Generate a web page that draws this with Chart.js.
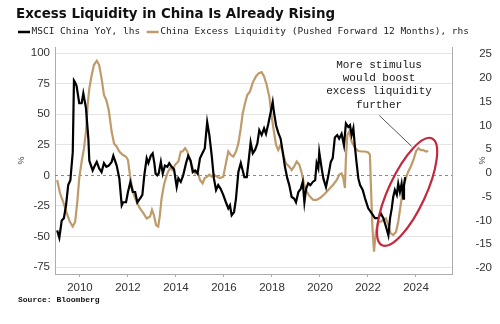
<!DOCTYPE html>
<html>
<head>
<meta charset="utf-8">
<script src="https://cdn.jsdelivr.net/npm/chart.js@4.4.1/dist/chart.umd.min.js"></script>
<style>
    html, body { margin: 0; padding: 0; background: #fff; }
    #chart { display: block; }
</style>
</head>
<body>
<canvas id="chart" width="500" height="324"></canvas>
<script>
    // MSCI China YoY (%), left axis
    const msciYears = [
        2009.05, 2009.14, 2009.24, 2009.33, 2009.42, 2009.51, 2009.60, 2009.70, 2009.75, 2009.80,
        2009.86, 2009.97, 2010.07, 2010.14, 2010.25, 2010.35, 2010.39, 2010.53, 2010.62, 2010.70,
        2010.80, 2010.90, 2011.00, 2011.10, 2011.20, 2011.32, 2011.39, 2011.53, 2011.64, 2011.74,
        2011.80, 2011.92, 2012.00, 2012.10, 2012.20, 2012.30, 2012.39, 2012.50, 2012.60, 2012.68,
        2012.78, 2012.85, 2012.95, 2013.03, 2013.10, 2013.15, 2013.22, 2013.28, 2013.37, 2013.45,
        2013.54, 2013.64, 2013.72, 2013.82, 2013.92, 2014.03, 2014.10, 2014.20, 2014.30, 2014.42,
        2014.51, 2014.61, 2014.70, 2014.80, 2014.90, 2015.00, 2015.10, 2015.20, 2015.30, 2015.39,
        2015.49, 2015.58, 2015.67, 2015.76, 2015.86, 2015.97, 2016.08, 2016.18, 2016.25, 2016.32,
        2016.42, 2016.50, 2016.60, 2016.70, 2016.78, 2016.85, 2016.95, 2017.04, 2017.11, 2017.20,
        2017.30, 2017.39, 2017.47, 2017.57, 2017.67, 2017.75, 2017.85, 2017.95, 2018.03, 2018.08,
        2018.17, 2018.26, 2018.36, 2018.45, 2018.54, 2018.64, 2018.72, 2018.82, 2018.92, 2019.00,
        2019.10, 2019.20, 2019.28, 2019.35, 2019.42, 2019.51, 2019.60, 2019.70, 2019.80, 2019.86,
        2019.93, 2019.97, 2020.07, 2020.14, 2020.25, 2020.35, 2020.45, 2020.53, 2020.62, 2020.72,
        2020.80, 2020.90, 2021.00, 2021.08, 2021.18, 2021.25, 2021.32, 2021.39, 2021.45, 2021.52,
        2021.60, 2021.67, 2021.78, 2021.88, 2022.01, 2022.15, 2022.29, 2022.43, 2022.53, 2022.64,
        2022.75, 2022.85, 2022.92, 2022.99, 2023.05, 2023.12, 2023.20, 2023.26, 2023.33, 2023.40,
        2023.47, 2023.50, 2023.55
    ];
    const msciYoY = [
        -45, -51, -37, -35, -24.5, -8, -4, 19, 77.6, 76,
        73, 59, 59, 67, 55, 30, 12, 4, 8, 11,
        5.7, 2.7, 10, 7, 8, 11, 16, 8, -2.5, -24.5,
        -22, -22, -13.6, -5.4, -13.6, -13.6, -22, -19, -16, 0,
        14, 10, 16, 18, 10, 1.4, 0, 1.5, 11, 1.5,
        8, 7, 10, 7, 5, -9.5, -2.5, -5.4, 0, 10,
        16, 12, 2.7, 4, 1.5, 14, 18, 22, 43.6, 33,
        16, -2.5, -12, -8, -11, -16, -22, -27, -24.5, -32.7,
        -30, -19, 2.7, 10, 4, -1.4, -1.4, 14, 27, 18,
        21, 26, 37, 33, 38.5, 34, 42.5, 52, 60, 52,
        41, 35, 30, 19, 7, -2.5, -8, -17.7, -19, -22,
        -13.6, -11, -5.4, -22, -11, -6.5, -8, -5.4, -4, 10,
        5.7, 19, 5.7, -2.5, -9.5, 0, 11, 14, 31, 33,
        30, 34, 24.5, 42.5, 39.5, 41, 33, 38.5, 24.5, 11,
        -2.7, -8, -12, -19, -27, -31, -35, -35, -31, -35,
        -42, -49, -35, -27, -17.7, -12, -16, -6.8, -13.6, -6.8,
        -19, -8, -1.4
    ];

    // China excess liquidity, pushed forward 12 months (%), right axis
    const liqYears = [
        2009.05, 2009.17, 2009.30, 2009.45, 2009.58, 2009.70, 2009.80, 2009.89, 2009.97, 2010.07,
        2010.17, 2010.25, 2010.32, 2010.39, 2010.49, 2010.58, 2010.70, 2010.80, 2010.90, 2011.00,
        2011.10, 2011.20, 2011.32, 2011.42, 2011.53, 2011.64, 2011.78, 2011.92, 2012.00, 2012.08,
        2012.15, 2012.25, 2012.36, 2012.50, 2012.64, 2012.78, 2012.92, 2013.00, 2013.08, 2013.17,
        2013.26, 2013.33, 2013.40, 2013.50, 2013.64, 2013.75, 2013.86, 2013.96, 2014.10, 2014.20,
        2014.28, 2014.38, 2014.47, 2014.58, 2014.70, 2014.80, 2014.90, 2015.00, 2015.11, 2015.20,
        2015.30, 2015.39, 2015.49, 2015.58, 2015.70, 2015.83, 2015.97, 2016.08, 2016.18, 2016.28,
        2016.39, 2016.50, 2016.60, 2016.70, 2016.78, 2016.88, 2016.97, 2017.08, 2017.20, 2017.33,
        2017.45, 2017.57, 2017.67, 2017.78, 2017.89, 2017.99, 2018.08, 2018.17, 2018.26, 2018.36,
        2018.47, 2018.58, 2018.72, 2018.82, 2018.92, 2019.03, 2019.14, 2019.24, 2019.33, 2019.45,
        2019.58, 2019.72, 2019.86, 2020.00, 2020.14, 2020.28, 2020.42, 2020.55, 2020.70, 2020.80,
        2020.90, 2020.97, 2021.04, 2021.08, 2021.14, 2021.22, 2021.32, 2021.46, 2021.60, 2021.75,
        2021.88, 2022.01, 2022.08, 2022.12, 2022.18, 2022.25, 2022.33, 2022.43, 2022.53, 2022.64,
        2022.75, 2022.85, 2022.94, 2023.05, 2023.17, 2023.26, 2023.36, 2023.47, 2023.58, 2023.68,
        2023.78, 2023.89, 2024.00, 2024.10, 2024.20, 2024.30, 2024.42, 2024.51
    ];
    const liqExcess = [
        -1.5, -4.3, -6.1, -8.5, -10.3, -11.3, -10.3, -6.1, -1.1, 2.4,
        5.2, 8.7, 14.3, 17.8, 20.6, 22.7, 23.6, 22.7, 19.9, 16.4,
        15.3, 13.2, 8.7, 6.2, 5.5, 4.5, 3.8, 3.4, 2.7, -0.4,
        -2.5, -4.7, -6.1, -7.5, -8.5, -9.6, -9.2, -7.8, -8.9, -11,
        -11.3, -8.9, -5.4, -2.5, -0.1, 1, 0.6, 1.7, 2.4, 4.5,
        4.5, 5.2, 4.5, 2.7, 1, -0.1, 0.3, -1.5, -2.2, -1.1,
        -0.8, -0.4, -0.8, -0.4, -0.8, -1.1, -0.8, 2, 4.5, 3.8,
        3.4, 4.5, 6.2, 9.4, 12.5, 14.7, 16.4, 17.1, 19, 20.3,
        21, 21.2, 20.3, 18.5, 16, 11.8, 8.7, 5.9, 4.8, 5.9,
        3.8, 2, 1.3, 0.6, 1.3, 2.4, 1.7, -0.1, -2.2, -4,
        -5, -5.7, -5.7, -5.3, -4.7, -4, -3.2, -2.5, -1.5, -0.4,
        -0.1, -1.1, -3.2, 3.1, 8, 8.7, 6.6, 5.2, 4.6, 4.5,
        4.5, 4.3, 3.8, -2.5, -11, -16.6, -12.4, -10.3, -10.3, -9.9,
        -9.6, -11, -12.7, -13.1, -12.4, -10.3, -6.8, -3.2, -1.1, 0.3,
        1.3, 2.7, 4.5, 5.2, 4.8, 4.8, 4.5, 4.6
    ];

    const yearTicks = [2010, 2012, 2014, 2016, 2018, 2020, 2022, 2024];
    const leftTicks = [-75, -50, -25, 0, 25, 50, 75, 100];
    const rightTicks = [-20, -15, -10, -5, 0, 5, 10, 15, 20, 25];

    const titleText = 'Excess Liquidity in China Is Already Rising';
    const sourceText = 'Source: Bloomberg';
    const noteLines = ['More stimulus', 'would boost', 'excess liquidity', 'further'];

    const msciColor = '#000000';
    const liqColor = '#bf9b6b';
    const axisColor = '#adadad';
    const tickFont = { family: 'Liberation Sans', size: 11.5 };

    // Title, legend, source line and the zero line
    const framePlugin = {
        id: 'frame',
        beforeDatasetsDraw(chart) {
            const { ctx, chartArea, scales } = chart;
            const y0 = scales.y.getPixelForValue(0);
            ctx.save();
            ctx.strokeStyle = '#8a8a8a';
            ctx.lineWidth = 1;
            ctx.setLineDash([3, 3]);
            ctx.beginPath();
            ctx.moveTo(chartArea.left, Math.round(y0) + 0.5);
            ctx.lineTo(chartArea.right, Math.round(y0) + 0.5);
            ctx.stroke();
            ctx.restore();
        },
        afterDraw(chart) {
            const ctx = chart.ctx;
            ctx.save();
            ctx.textBaseline = 'middle';
            ctx.textAlign = 'left';

            ctx.fillStyle = '#111';
            ctx.font = 'bold 13.4px "DejaVu Sans"';
            ctx.fillText(titleText, 16, 15);

            // legend
            ctx.font = '9.5px "DejaVu Sans Mono"';
            let x = 18;
            chart.data.datasets.forEach(ds => {
                ctx.strokeStyle = ds.borderColor;
                ctx.lineWidth = 2.5;
                ctx.beginPath();
                ctx.moveTo(x, 32);
                ctx.lineTo(x + 12, 32);
                ctx.stroke();
                ctx.fillStyle = '#222';
                ctx.fillText(ds.label, x + 13.5, 32);
                x += 13.5 + ctx.measureText(ds.label).width + 6.5;
            });

            ctx.font = 'bold 8px "Liberation Mono"';
            ctx.fillStyle = '#111';
            ctx.fillText(sourceText, 18, 300);
            ctx.restore();
        }
    };

    // Red ring and comment about the latest readings
    const notePlugin = {
        id: 'note',
        afterDatasetsDraw(chart) {
            const { ctx, scales } = chart;
            const xs = scales.x, ys = scales.y;
            ctx.save();

            ctx.strokeStyle = '#c4283c';
            ctx.lineWidth = 2.2;
            ctx.beginPath();
            ctx.ellipse(xs.getPixelForValue(2023.63), ys.getPixelForValue(-13.5), 59, 18.5, -65 * Math.PI / 180, 0, Math.PI * 2);
            ctx.stroke();

            ctx.strokeStyle = '#555';
            ctx.lineWidth = 1;
            ctx.beginPath();
            ctx.moveTo(xs.getPixelForValue(2022.47), ys.getPixelForValue(49));
            ctx.lineTo(xs.getPixelForValue(2023.82), ys.getPixelForValue(23.7));
            ctx.stroke();

            ctx.fillStyle = '#1a1a1a';
            ctx.font = '11px "Liberation Mono"';
            ctx.textAlign = 'center';
            ctx.textBaseline = 'middle';
            const cx = xs.getPixelForValue(2022.46);
            const top = ys.getPixelForValue(90.5);
            noteLines.forEach((line, i) => ctx.fillText(line, cx, top + i * 13.4));
            ctx.restore();
        }
    };

    new Chart(document.getElementById('chart'), {
        type: 'line',
        data: {
            datasets: [
                {
                    label: 'MSCI China YoY, lhs',
                    data: msciYears.map((x, i) => ({ x: x, y: msciYoY[i] })),
                    yAxisID: 'y',
                    borderColor: msciColor,
                    borderWidth: 2.2,
                    pointRadius: 0,
                    tension: 0
                },
                {
                    label: 'China Excess Liquidity (Pushed Forward 12 Months), rhs',
                    data: liqYears.map((x, i) => ({ x: x, y: liqExcess[i] })),
                    yAxisID: 'y2',
                    borderColor: liqColor,
                    borderWidth: 2.2,
                    pointRadius: 0,
                    tension: 0
                }
            ]
        },
        options: {
            responsive: false,
            animation: false,
            devicePixelRatio: 1,
            layout: { padding: { top: 47, left: 14, right: 8, bottom: 24 } },
            plugins: {
                legend: { display: false },
                title: { display: false },
                tooltip: { enabled: false }
            },
            scales: {
                x: {
                    type: 'linear',
                    min: 2008.96,
                    max: 2025.5,
                    afterBuildTicks: (scale) => { scale.ticks = yearTicks.map(v => ({ value: v })); },
                    afterFit: (scale) => { scale.height = 26; },
                    grid: { drawOnChartArea: false, tickLength: 3, color: axisColor },
                    border: { color: axisColor },
                    ticks: {
                        padding: 4,
                        maxRotation: 0,
                        color: '#333',
                        font: tickFont,
                        callback: (v) => String(v)
                    }
                },
                y: {
                    position: 'left',
                    min: -80.7,
                    max: 105,
                    afterBuildTicks: (scale) => { scale.ticks = leftTicks.map(v => ({ value: v })); },
                    afterFit: (scale) => { scale.width = 41; },
                    grid: {
                        drawTicks: false,
                        color: (c) => (c.tick && c.tick.value === 0) ? 'rgba(0,0,0,0)' : '#e4e4e4'
                    },
                    border: { color: axisColor },
                    ticks: { padding: 5, color: '#333', font: tickFont, callback: (v) => String(v) },
                    title: { display: true, text: '%', color: '#444', font: { size: 9 }, padding: { top: 2, bottom: 0 } }
                },
                y2: {
                    position: 'right',
                    min: -21.3,
                    max: 26.5,
                    afterBuildTicks: (scale) => { scale.ticks = rightTicks.map(v => ({ value: v })); },
                    afterFit: (scale) => { scale.width = 40; },
                    grid: { drawOnChartArea: false, drawTicks: false },
                    border: { color: axisColor },
                    ticks: { padding: 3, crossAlign: 'far', color: '#333', font: tickFont, callback: (v) => String(v) },
                    title: { display: true, text: '%', color: '#444', font: { size: 9 }, padding: { top: 5, bottom: 0 } }
                }
            }
        },
        plugins: [framePlugin, notePlugin]
    });
</script>
</body>
</html>
